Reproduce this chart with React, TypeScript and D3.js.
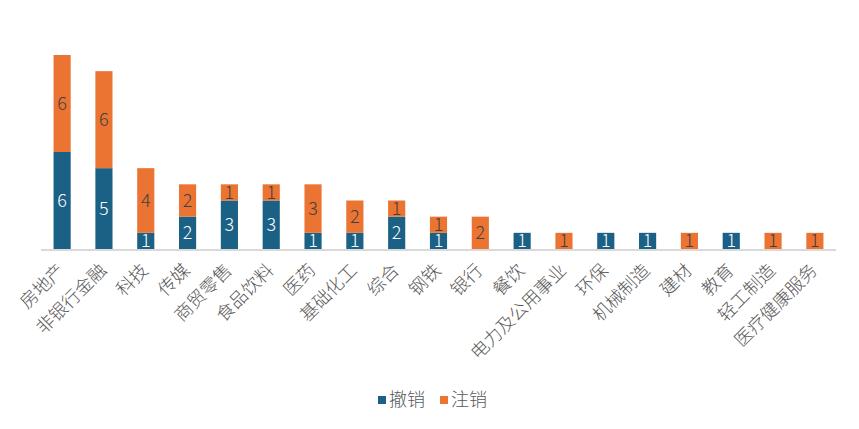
import React from "react";
import * as d3 from "d3";

const categories = ["房地产","非银行金融","科技","传媒","商贸零售","食品饮料","医药","基础化工","综合","钢铁","银行","餐饮","电力及公用事业","环保","机械制造","建材","教育","轻工制造","医疗健康服务"];
const revoked = [6,5,1,2,3,3,1,1,2,1,0,1,0,1,1,0,1,0,0];
const cancelled = [6,6,4,2,1,1,3,2,1,1,2,0,1,0,0,1,0,1,1];
const seriesNames = ["撤销","注销"];
const colors = ["#1a6185","#eb7433"];
const labelColors = ["#ffffff","#404040"];

export default function App() {
  const W = 859, H = 429;
  const left = 41, right = 836, base = 249;
  const x = d3.scaleBand().domain(categories).range([left, right]).paddingInner(0.59).paddingOuter(0.3);
  const y = d3.scaleLinear().domain([0, 12]).range([base, base - 194]);
  const font = "'Noto Sans CJK SC', 'Noto Sans', sans-serif";
  const rows = categories.map((c, i) => ({ c, a: revoked[i], b: cancelled[i] }));
  const stack = d3.stack<any>().keys(["a", "b"])(rows as any);
  return (
    <svg width={W} height={H} style={{ position: "absolute", left: 0, top: 0 }}>
      <rect width={W} height={H} fill="#fff" />
      {stack.map((s, si) => (
        <g key={si}>
          {s.map((d, i) => {
            const v = d[1] - d[0];
            if (v <= 0) return null;
            const cx = x(categories[i])! + x.bandwidth() / 2;
            const y0 = y(d[0]), y1 = y(d[1]);
            return (
              <g key={i}>
                <rect x={x(categories[i])} y={y1} width={x.bandwidth()} height={y0 - y1} fill={colors[si]} />
                <text x={cx} y={(y0 + y1) / 2} dy="0.36em" textAnchor="middle" fontSize={18} fontWeight={300} fontFamily={font} fill={labelColors[si]}>{v}</text>
              </g>
            );
          })}
        </g>
      ))}
      <line x1={left} x2={right} y1={base + 1} y2={base + 1} stroke="#d9d9d9" strokeWidth={2} />
      {categories.map((c) => {
        const cx = x(c)! + x.bandwidth() / 2;
        return (
          <text key={c} transform={`translate(${cx - 1},${base + 18}) rotate(-45)`} textAnchor="end" dy="0.35em" fontSize={18} fontWeight={300} fontFamily={font} fill="#595959">{c}</text>
        );
      })}
      <g transform="translate(378,400)">
        {seriesNames.map((n, i) => (
          <g key={n} transform={`translate(${i * 62},0)`}>
            <rect x={0} y={-4} width={8} height={8} fill={colors[i]} />
            <text x={11} y={0} dy="0.35em" fontSize={18} fontWeight={300} fontFamily={font} fill="#595959">{n}</text>
          </g>
        ))}
      </g>
    </svg>
  );
}
